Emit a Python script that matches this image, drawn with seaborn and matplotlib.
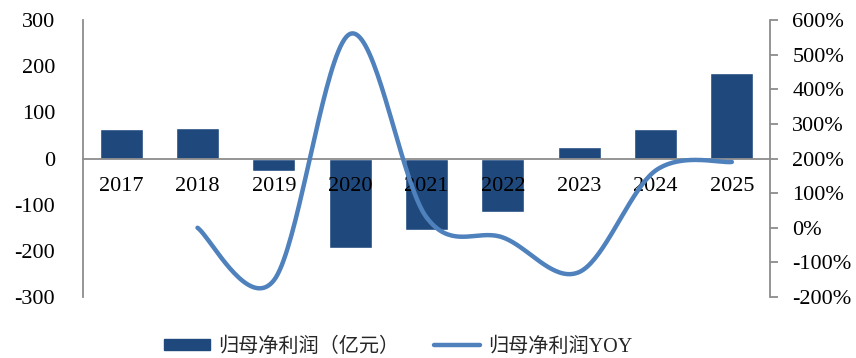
import numpy as np
import pandas as pd
import matplotlib
matplotlib.use("Agg")
import matplotlib.pyplot as plt
import seaborn as sns
from matplotlib.patches import Patch
from matplotlib.lines import Line2D

# Net profit attributable to parent (100M CNY) and its YoY growth
years = ["2017", "2018", "2019", "2020", "2021", "2022", "2023", "2024", "2025"]
profit = [63, 65, -28, -193, -154, -115, 24, 63, 186]
yoy_years = ["2018", "2019", "2020", "2021", "2022", "2023", "2024", "2025"]
yoy_pct = [0, -152, 560, 30, -28, -128, 165, 190]

left_ticks = [-300, -200, -100, 0, 100, 200, 300]
right_ticks = [-200, -100, 0, 100, 200, 300, 400, 500, 600]

bar_label = "归母净利润（亿元）"
line_label = "归母净利润YOY"

bar_color = "#1F497D"
line_color = "#4F81BD"
axis_gray = "#8C8C8C"
tick_size = 16

sns.set_theme(style="white")
plt.rcParams["font.family"] = ["Liberation Serif", "Noto Sans CJK SC", "DejaVu Sans"]
plt.rcParams["axes.unicode_minus"] = False


def smooth_curve(xs, ys, steps=40):
    """Bezier smoothing through every point (Catmull-Rom style tangents)."""
    xs = np.asarray(xs, float)
    ys = np.asarray(ys, float)
    n = len(xs)
    out_x, out_y = [], []
    for i in range(n - 1):
        p0 = np.array([xs[max(i - 1, 0)], ys[max(i - 1, 0)]])
        p1 = np.array([xs[i], ys[i]])
        p2 = np.array([xs[i + 1], ys[i + 1]])
        p3 = np.array([xs[min(i + 2, n - 1)], ys[min(i + 2, n - 1)]])
        c1 = p1 + (p2 - p0) / 6.0
        c2 = p2 - (p3 - p1) / 6.0
        t = np.linspace(0, 1, steps)[:, None]
        pts = ((1 - t) ** 3) * p1 + 3 * ((1 - t) ** 2) * t * c1 + 3 * (1 - t) * t ** 2 * c2 + t ** 3 * p2
        if i > 0:
            pts = pts[1:]
        out_x.extend(pts[:, 0])
        out_y.extend(pts[:, 1])
    return np.array(out_x), np.array(out_y)


fig = plt.figure(figsize=(8.56, 3.58), dpi=100)
ax = fig.add_axes([83 / 856, 1 - 297 / 358, (770 - 83) / 856, (297 - 20) / 358])

bars_df = pd.DataFrame({"year": years, "profit": profit})
sns.barplot(data=bars_df, x="year", y="profit", order=years, color=bar_color,
            saturation=1, width=0.56, ax=ax)
ax.set_axisbelow(False)
ax.set_xlim(-0.5, len(years) - 0.5)
ax.set_ylim(left_ticks[0], left_ticks[-1])
ax.set_yticks(left_ticks)
ax.set_xlabel("")
ax.set_ylabel("")

# category axis sits on the zero line
ax.spines["bottom"].set_position(("data", 0))
for side in ["top", "right"]:
    ax.spines[side].set_visible(False)
for side in ["left", "bottom"]:
    ax.spines[side].set_color(axis_gray)
    ax.spines[side].set_linewidth(1.3)
ax.tick_params(axis="x", length=0, pad=13, labelsize=tick_size, colors="black")
ax.tick_params(axis="y", length=0, pad=20, labelsize=tick_size, colors="black")

# YoY growth on the secondary axis
ax2 = ax.twinx()
pos = {y: i for i, y in enumerate(years)}
sx, sy = smooth_curve([pos[y] for y in yoy_years], yoy_pct)
curve_df = pd.DataFrame({"x": sx, "y": sy})
sns.lineplot(data=curve_df, x="x", y="y", sort=False, color=line_color,
             linewidth=3.2, ax=ax2, solid_capstyle="round")
ax2.set_ylim(right_ticks[0], right_ticks[-1])
ax2.set_yticks(right_ticks)
ax2.set_yticklabels([f"{v}%" for v in right_ticks])
ax2.set_ylabel("")
ax2.set_xlabel("")
for side in ["top", "left", "bottom"]:
    ax2.spines[side].set_visible(False)
ax2.spines["right"].set_color(axis_gray)
ax2.spines["right"].set_linewidth(1.3)
ax2.tick_params(axis="y", direction="out", length=6, width=1.3, color=axis_gray,
                pad=10, labelsize=tick_size, labelcolor="black")
ax2.set_xlim(-0.5, len(years) - 0.5)

handles = [Patch(facecolor=bar_color, edgecolor=bar_color),
           Line2D([0], [0], color=line_color, linewidth=3.2)]
fig.legend(handles, [bar_label, line_label], loc="center", bbox_to_anchor=(0.465, 1 - 347 / 358),
           ncol=2, frameon=False, handlelength=2.3, handleheight=0.5,
           handletextpad=0.4, columnspacing=1.7,
           prop={"family": ["Liberation Serif", "Noto Sans CJK SC"], "size": 14.5})

fig.savefig("out.png", dpi=100, facecolor="white")
